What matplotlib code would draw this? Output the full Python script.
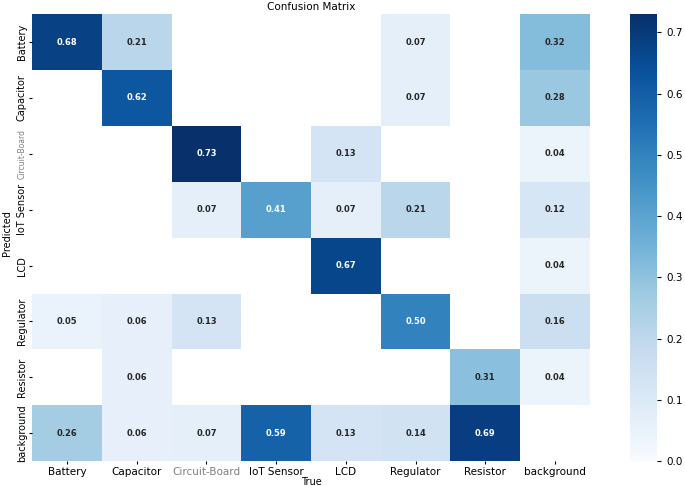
import numpy as np
import matplotlib
matplotlib.use("Agg")
import matplotlib.pyplot as plt
from matplotlib import font_manager
import seaborn as sns

labels = ["Battery", "Capacitor", "Circuit-Board", "IoT Sensor", "LCD",
          "Regulator", "Resistor", "background"]

# rows = Predicted, columns = True
row_battery = [0.68, 0.21, 0.00, 0.00, 0.00, 0.07, 0.00, 0.32]
row_capacitor = [0.00, 0.62, 0.00, 0.00, 0.00, 0.07, 0.00, 0.28]
row_circuit = [0.00, 0.00, 0.73, 0.00, 0.13, 0.00, 0.00, 0.04]
row_iot = [0.00, 0.00, 0.07, 0.41, 0.07, 0.21, 0.00, 0.12]
row_lcd = [0.00, 0.00, 0.00, 0.00, 0.67, 0.00, 0.00, 0.04]
row_regulator = [0.05, 0.06, 0.13, 0.00, 0.00, 0.50, 0.00, 0.16]
row_resistor = [0.00, 0.06, 0.00, 0.00, 0.00, 0.00, 0.31, 0.04]
row_background = [0.26, 0.06, 0.07, 0.59, 0.13, 0.14, 0.69, 0.00]

array = np.array([row_battery, row_capacitor, row_circuit, row_iot,
                  row_lcd, row_regulator, row_resistor, row_background])
array[array < 0.005] = np.nan

# narrow face for the y side if one is installed
names = {f.name for f in font_manager.fontManager.ttflist}
narrow = "Liberation Sans Narrow" if "Liberation Sans Narrow" in names else "DejaVu Sans"

fig = plt.figure(figsize=(6.85, 4.86), dpi=100)
ax = fig.add_axes([0.047, 0.051, 0.814, 0.920])
cax = fig.add_axes([0.920, 0.051, 0.039, 0.920])

sns.heatmap(array, ax=ax, cbar_ax=cax, annot=True,
            annot_kws={"size": 6, "weight": "semibold"},
            cmap="Blues", fmt=".2f", vmin=0.0,
            xticklabels=labels, yticklabels=labels).set_facecolor((1, 1, 1))

ax.set_title("Confusion Matrix", fontsize=7.5, pad=3)
ax.set_xlabel("True", fontsize=7, labelpad=0)
ax.set_ylabel("Predicted", fontsize=7, family=narrow)
ax.yaxis.set_label_coords(-0.036, 0.51)
ax.tick_params(axis="x", labelsize=7.5, length=2, pad=2)
ax.tick_params(axis="y", labelsize=7, length=2, pad=2)
plt.setp(ax.get_xticklabels(), rotation=0, ha="center")
plt.setp(ax.get_yticklabels(), rotation=90, va="center", family=narrow)
ax.get_xticklabels()[2].set_color("gray")
ax.get_yticklabels()[2].set_color("gray")
ax.get_yticklabels()[2].set_fontsize(5.5)
cax.tick_params(labelsize=7.5, length=3)

fig.savefig("out.png", dpi=100)
